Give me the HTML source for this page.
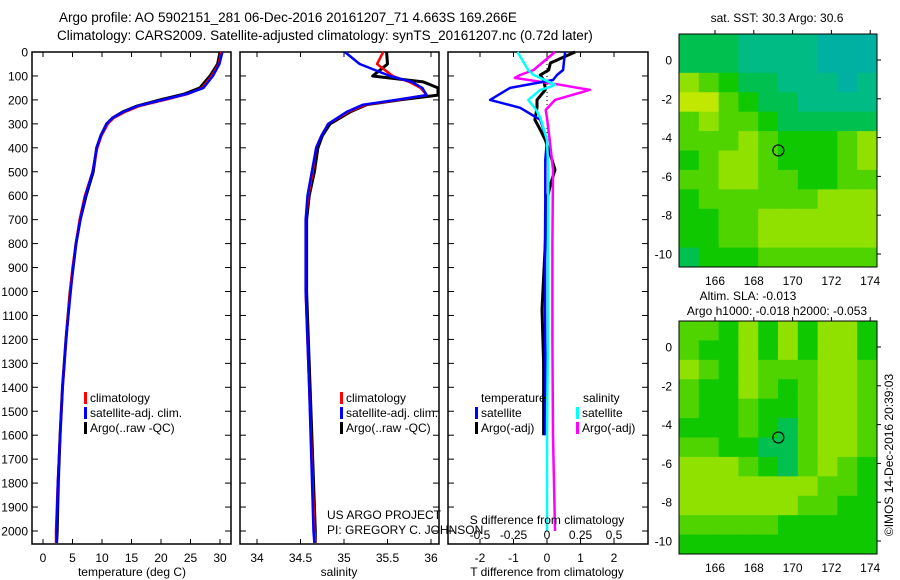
<!DOCTYPE html>
<html><head><meta charset="utf-8"><style>
body{margin:0;background:#fff;}
svg{display:block;font-family:"Liberation Sans",sans-serif;}
text{fill:#000;}
</style></head><body>
<svg id="c" width="900" height="580" viewBox="0 0 900 580"></svg>
<script>
// ===== data =====
const depths=[0,50,100,150,175,200,225,250,275,300,350,400,500,600,700,800,900,1000,1200,1400,1600,1800,2000,2050];
const tempArgo=[30,29.6,28.3,26.6,24,19.8,16,13.5,11.8,10.8,9.8,9.1,8.5,7.3,6.3,5.6,5.1,4.6,3.9,3.3,2.9,2.6,2.4,2.3];
const tempClim=[30.2,29.8,28.6,27.0,24.6,20.6,16.4,13.9,12.0,11.0,9.9,9.2,8.4,7.1,6.2,5.6,5.0,4.6,3.9,3.3,2.9,2.5,2.2,2.2];
const tempSat=[30.4,29.9,28.8,27.2,24.4,20.3,16.1,13.6,11.8,10.8,9.8,9.1,8.4,7.2,6.3,5.6,5.1,4.7,3.9,3.3,2.9,2.5,2.3,2.3];
const salDepths=[0,50,100,125,150,180,200,220,250,300,350,400,500,600,700,800,1000,1400,2000,2050];
const salArgo=[35.49,35.5,35.33,35.91,36.08,36.08,35.64,35.26,35.07,34.84,34.75,34.70,34.66,34.60,34.57,34.57,34.57,34.61,34.67,34.67];
const salClim=[35.45,35.38,35.56,35.75,35.88,35.95,35.62,35.25,35.05,34.82,34.74,34.68,34.64,34.59,34.56,34.56,34.56,34.60,34.66,34.67];
const salSat=[35.01,35.18,35.53,35.78,35.9,35.95,35.6,35.22,35.03,34.82,34.74,34.68,34.63,34.58,34.56,34.56,34.56,34.60,34.65,34.66];
const tdDepths=[0,46,75,96,117,150,158,200,233,283,325,367,450,492,554,617,800,1075,1300,1600];
const tdSat=[0.54,0.5,0.48,0.3,0.18,-1.1,-1.2,-1.7,-0.8,-0.2,-0.1,0,-0.05,-0.05,-0.05,-0.05,-0.06,-0.06,-0.05,-0.05];
const tdArgo=[0.84,0.1,0.05,-0.2,-0.1,-0.05,-0.05,-0.3,-0.3,-0.36,-0.2,-0.05,0.15,0.24,0.1,0,-0.05,-0.15,-0.1,-0.1];
const sdDepths=[0,75,96,108,137,150,158,200,242,275,367,492,800,1200,1600,2000];
const sdSat=[-0.22,-0.14,-0.1,-0.05,0.06,0.0,-0.05,-0.14,-0.08,-0.05,0,0.01,0.007,0.007,0.0,0.0];
const sdArgo=[0.06,-0.1,-0.2,-0.24,0.1,0.23,0.32,0.06,-0.01,0.0,0.02,0.045,0.04,0.04,0.045,0.06];
const depthTicks=[0,100,200,300,400,500,600,700,800,900,1000,1100,1200,1300,1400,1500,1600,1700,1800,1900,2000];
const tempTicks=[0,5,10,15,20,25,30];
const salTicks=[34,34.5,35,35.5,36];
const tdTicks=[-2,-1,0,1,2];
const sdTicks=[-0.5,-0.25,0,0.25,0.5];
const latTicks=[0,-2,-4,-6,-8,-10];
const lonTicks=[166,168,170,172,174];
const sstGrid=[
[2,2,2,1,1,1,1,0,0,0],[2,2,2,1,1,1,1,0,0,0],[5,4,3,2,2,1,1,1,0,1],[6,6,4,3,2,2,1,1,1,1],
[4,5,4,4,3,2,2,2,2,2],[4,4,4,5,4,3,3,3,4,5],[3,4,5,5,4,3,3,3,4,5],[4,4,5,5,4,4,3,3,4,4],
[3,4,4,4,4,4,4,5,5,5],[3,3,4,4,5,5,5,5,5,5],[3,3,4,4,5,5,5,5,5,5],[2,3,3,3,4,4,4,4,4,4]];
const slaGrid=[
[4,4,3,5,3,5,3,5,5,3],[4,3,3,5,3,5,3,5,5,3],[5,4,3,5,4,4,4,5,5,4],[4,3,3,5,4,3,4,5,5,4],
[4,3,3,4,3,3,4,5,5,4],[3,3,3,4,3,2,4,5,5,4],[4,4,3,3,2,2,4,5,5,4],[5,5,5,4,3,2,4,5,4,3],
[5,5,5,5,5,5,5,4,4,3],[5,5,5,5,5,5,4,4,3,3],[4,4,4,4,4,3,3,3,3,3],[3,3,3,3,3,3,3,3,3,3]];
const argoLon=169.266, argoLat=-4.663;
// ===== drawing =====
const NS='http://www.w3.org/2000/svg', svg=document.getElementById('c');
function mk(t,a,p){const e=document.createElementNS(NS,t);for(const k in a)e.setAttribute(k,a[k]);(p||svg).appendChild(e);return e;}
function txt(x,y,s,anchor,size,name){const e=mk('text',{x:x,y:y,'font-size':size||12,'text-anchor':anchor||'start'});e.textContent=s;

return e;}
const yD=d=>52+d*0.2395;
const PT={x0:32,x1:231}, PS={x0:240,x1:439}, PD={x0:448,x1:648};
const xT=v=>43+v*5.9, xS=v=>257+(v-34)*87, xTD=v=>547+v*33.5, xSD=v=>547+v*134;
function frame(p,name){const r=mk('rect',{x:p.x0,y:52,width:p.x1-p.x0,height:492,fill:'none',stroke:'#000','stroke-width':1.5});

}
function line(xs,ds,fx,col,name,w){const pts=xs.map((v,i)=>fx(v).toFixed(1)+','+yD(ds[i]).toFixed(1)).join(' ');
const e=mk('polyline',{points:pts,fill:'none',stroke:col,'stroke-width':w||2.5,'stroke-linejoin':'round'});

}
// titles
txt(59,22,'Argo profile: AO 5902151_281 06-Dec-2016 20161207_71 4.663S 169.266E','start',13.5,'title-line-1');
txt(57,40,'Climatology: CARS2009. Satellite-adjusted climatology: synTS_20161207.nc (0.72d later)','start',13.5,'title-line-2');
// depth axis
depthTicks.forEach(d=>{txt(28,yD(d)+4.5,String(d),'end',12,'depth-tick-label');
[PT,PS,PD].forEach(p=>{mk('line',{x1:p.x0,x2:p.x0+6,y1:yD(d),y2:yD(d),stroke:'#000'});mk('line',{x1:p.x1-6,x2:p.x1,y1:yD(d),y2:yD(d),stroke:'#000'});});});
// panel 1
frame(PT,'temperature-panel');
tempTicks.forEach(v=>{txt(xT(v),562,String(v),'middle',12,'temperature-tick-label');mk('line',{x1:xT(v),x2:xT(v),y1:52,y2:57,stroke:'#000'});mk('line',{x1:xT(v),x2:xT(v),y1:539,y2:544,stroke:'#000'});});
txt(132,576,'temperature (deg C)','middle',12,'temperature-axis-title');
line(tempArgo,depths,xT,'#000','temperature-argo-line',3);
line(tempClim,depths,xT,'#f00','temperature-climatology-line');
line(tempSat,depths,xT,'#00f','temperature-satellite-line');
// panel 2
frame(PS,'salinity-panel');
salTicks.forEach(v=>{txt(xS(v),562,String(v),'middle',12,'salinity-tick-label');mk('line',{x1:xS(v),x2:xS(v),y1:52,y2:57,stroke:'#000'});mk('line',{x1:xS(v),x2:xS(v),y1:539,y2:544,stroke:'#000'});});
txt(339,576,'salinity','middle',12,'salinity-axis-title');
line(salArgo,salDepths,xS,'#000','salinity-argo-line',3);
line(salClim,salDepths,xS,'#f00','salinity-climatology-line');
line(salSat,salDepths,xS,'#00f','salinity-satellite-line');
// legends
function leg(x,y,col,s,name){mk('rect',{x:x,y:y-10,width:3,height:12,fill:col});txt(x+6,y,s,'start',12,name);}
[[84,'temperature'],[340,'salinity']].forEach(([x,n])=>{leg(x,402,'#f00','climatology',n+'-legend-climatology');leg(x,417,'#00f','satellite-adj. clim.',n+'-legend-satellite');leg(x,432,'#000','Argo(..raw -QC)',n+'-legend-argo');});
txt(327,519,'US ARGO PROJECT','start',12,'project-label');
txt(327,534,'PI: GREGORY C. JOHNSON','start',12,'pi-label');
// panel 3
frame(PD,'difference-panel');
tdTicks.forEach(v=>{txt(xTD(v),562,String(v),'middle',12,'t-diff-tick-label');mk('line',{x1:xTD(v),x2:xTD(v),y1:539,y2:544,stroke:'#000'});});
sdTicks.forEach(v=>{mk('line',{x1:xSD(v),x2:xSD(v),y1:52,y2:57,stroke:'#000'});});
mk('line',{x1:547,x2:547,y1:60,y2:140,stroke:'#000','stroke-dasharray':'1,3'});
line(tdArgo,tdDepths,xTD,'#000','t-diff-argo-line',3);
line(sdArgo,sdDepths,xSD,'#f0f','s-diff-argo-line');
line(tdSat,tdDepths,xTD,'#00f','t-diff-satellite-line');
line(sdSat,sdDepths,xSD,'#0ff','s-diff-satellite-line');
txt(481,402,'temperature','start',12,'diff-legend-temperature-heading');
txt(583,402,'salinity','start',12,'diff-legend-salinity-heading');
leg(475,417,'#00f','satellite','diff-legend-t-satellite');leg(475,432,'#000','Argo(-adj)','diff-legend-t-argo');
leg(576,417,'#0ff','satellite','diff-legend-s-satellite');leg(576,432,'#f0f','Argo(-adj)','diff-legend-s-argo');
txt(547,524,'S difference from climatology','middle',12,'s-diff-axis-title');
sdTicks.forEach(v=>txt(xSD(v),539,String(v),'middle',12,'s-diff-tick-label'));
txt(547,576,'T difference from climatology','middle',12,'t-diff-axis-title');
// maps
const cmap=['#00b0a0','#00bc84','#00c050','#10c800','#50d400','#90e000','#c0e800','#e8e800','#f0a000'];
function map(top,grid,name){const X0=679,X1=877,lonx=v=>715+(v-166)*19.4,laty=v=>top+26+(-v)*19.4;
const rows=grid.length,cols=grid[0].length,cw=(X1-X0)/cols,chh=233/rows;
const g=mk('g',{});
grid.forEach((r,i)=>r.forEach((v,j)=>{const c=mk('rect',{x:X0+j*cw,y:top+i*chh,width:cw+0.5,height:chh+0.5,fill:cmap[v]},g);

}));
mk('rect',{x:X0,y:top,width:X1-X0,height:233,fill:'none',stroke:'#000'});
latTicks.forEach(v=>{txt(672,laty(v)+4.5,String(v),'end',12,'latitude-tick-label');mk('line',{x1:X1,x2:X1+4,y1:laty(v),y2:laty(v),stroke:'#000'});});
lonTicks.forEach(v=>{txt(lonx(v),top+251,String(v),'middle',12,'longitude-tick-label');mk('line',{x1:lonx(v),x2:lonx(v),y1:top-4,y2:top,stroke:'#000'});});
const m=mk('circle',{cx:lonx(argoLon),cy:laty(argoLat),r:5.5,fill:'none',stroke:'#000','stroke-width':1.2});

}
map(34,sstGrid,'sst-map');
map(321,slaGrid,'sla-map');
txt(777,22,'sat. SST: 30.3 Argo: 30.6','middle',12,'sst-map-title');
txt(748,300,'Altim. SLA: -0.013','middle',12,'sla-map-title');
txt(777,315,'Argo h1000: -0.018 h2000: -0.053','middle',12,'sla-map-subtitle');
const r=txt(0,0,'©IMOS 14-Dec-2016 20:39:03','middle',12,'imos-timestamp');r.setAttribute('transform','translate(893,455) rotate(-90)');
</script>
</body></html>
